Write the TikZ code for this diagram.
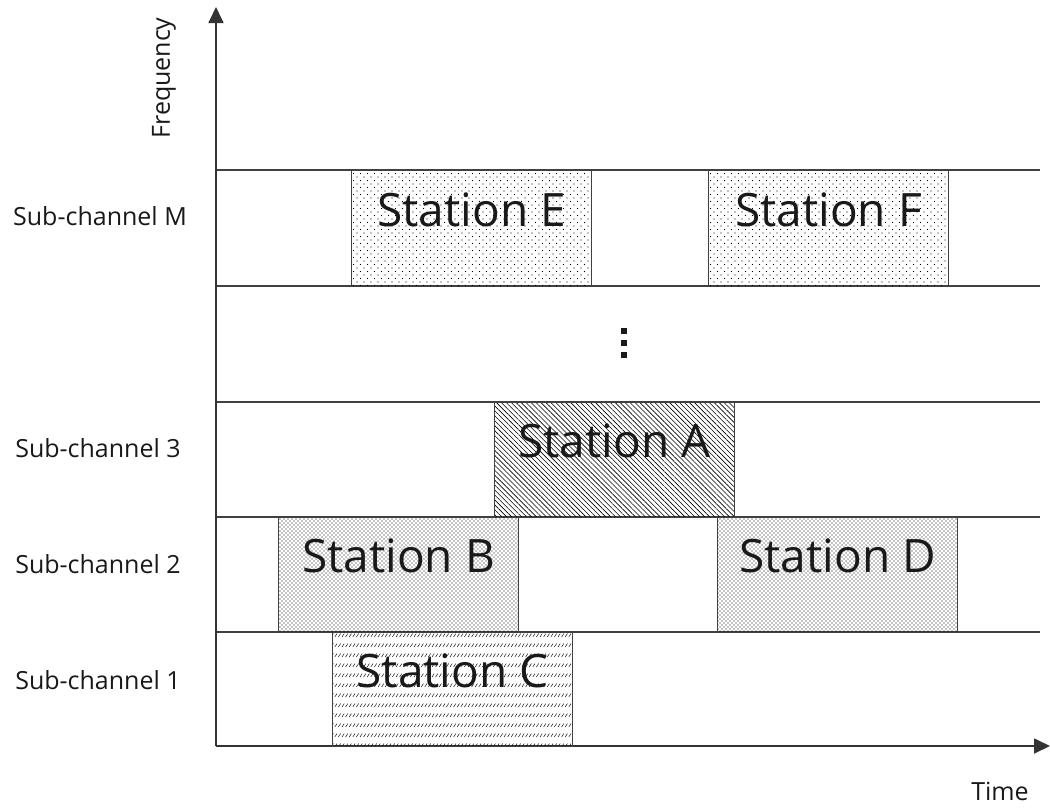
\documentclass[tikz,border=0pt]{standalone}
\usepackage{fontspec}
\setmainfont{Open Sans}
\usetikzlibrary{patterns,patterns.meta,arrows.meta}

\tikzdeclarepattern{name=sparsedots, bottom left={(-1pt,-1pt)}, top right={(8pt,8pt)}, tile size={(7pt,7pt)},
  code={\fill (0pt,0pt) circle (0.6pt); \fill (3.5pt,3.5pt) circle (0.6pt);}}
\tikzdeclarepattern{name=densedots, bottom left={(-1pt,-1pt)}, top right={(5pt,5pt)}, tile size={(4pt,4pt)},
  code={\fill (0pt,0pt) circle (0.6pt); \fill (2pt,2pt) circle (0.6pt);}}
\tikzdeclarepattern{name=slashrows, bottom left={(-1pt,-1pt)}, top right={(4.5pt,11pt)}, tile size={(3.6pt,10pt)},
  code={\draw[line width=0.45pt] (0pt,0pt) -- (2.2pt,3.4pt);}}

\begin{document}
\begin{tikzpicture}[x=1pt,y=-1pt,
  box/.style={draw=black!75, line width=1.1pt, anchor=north west, inner sep=0pt, minimum width=240pt},
  st/.style={font=\fontsize{46}{46}\selectfont, text=black!90},
  lab/.style={font=\fontsize{25}{25}\selectfont, text=black!90},
  rowline/.style={draw=black!75, line width=1.1pt},
  ax/.style={draw=black!80, line width=1.8pt, -{Triangle[length=16pt,width=15pt]}}]
\useasboundingbox (0,0) rectangle (1050,807);

% row lines
\foreach \yy in {170,286,402,517,632}
  \draw[rowline] (216,\yy) -- (1040,\yy);

% axes
\coordinate (O) at (216,746);
\coordinate (ytip) at (216,7);
\coordinate (xtip) at (1050,746);
\draw[ax] (O) -- (ytip);
\draw[ax] (O) -- (xtip);

% station boxes
\node[box, minimum height=116pt, pattern=sparsedots] (E) at (351,170) {};
\node[box, minimum height=116pt, pattern=sparsedots] (F) at (708,170) {};
\node[box, minimum height=115pt, pattern={Lines[angle=-45,distance=3.5pt,line width=0.6pt]}] (A) at (494,402) {};
\node[box, minimum height=115pt, pattern=densedots] (B) at (278,517) {};
\node[box, minimum height=115pt, pattern=densedots] (D) at (717,517) {};
\node[box, minimum height=114pt, pattern=slashrows] (C) at (332,632) {};

\node[st] (tE) at ([yshift=19pt]E.center) {Station E};
\node[st] (tF) at ([yshift=19pt]F.center) {Station F};
\node[st] (tA) at ([yshift=19pt]A.center) {Station A};
\node[st] (tB) at ([yshift=19pt]B.center) {Station B};
\node[st] (tD) at ([yshift=19pt]D.center) {Station D};
\node[st] (tC) at ([yshift=19pt]C.center) {Station C};

% vertical ellipsis
\foreach \yy in {331,343,355}
  \fill[black!90] (621,\yy-2.8) rectangle (627,\yy+2.8);

% labels
\node[lab] (lM) at (100,216) {Sub-channel M};
\node[lab] (l3) at (98,448) {Sub-channel 3};
\node[lab] (l2) at (98,564) {Sub-channel 2};
\node[lab] (l1) at (98,680) {Sub-channel 1};
\node[lab, rotate=90] (fr) at (164,78) {Frequency};
\node[lab] (tm) at (1000,791) {Time};
\end{tikzpicture}
\end{document}
